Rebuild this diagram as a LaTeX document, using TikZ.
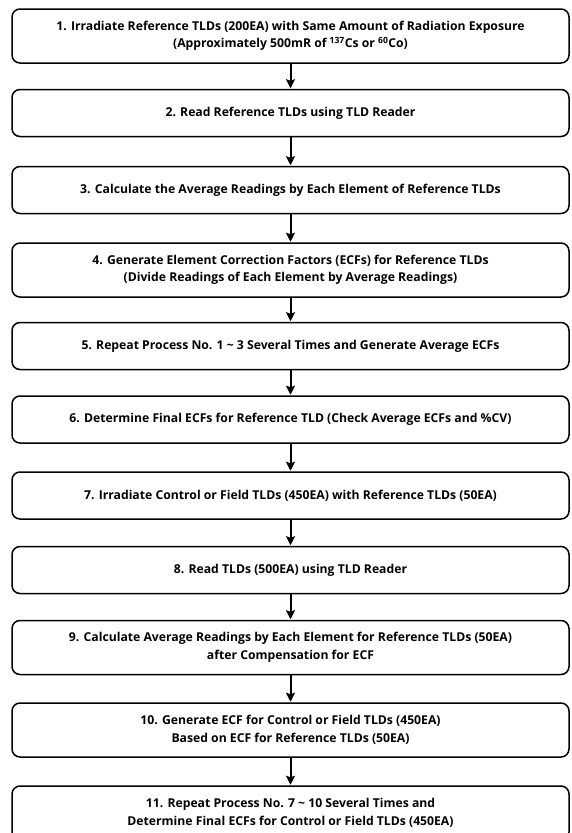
\documentclass[tikz,border=0pt]{standalone}
\usepackage{fontspec}
\setmainfont{Open Sans}
\usepackage{tikz}
\usetikzlibrary{arrows.meta,positioning}

\begin{document}
\begin{tikzpicture}
[x=1pt,y=-1pt,>={Stealth[length=9pt,width=9pt,inset=1.5pt]},
step box/.style = {draw, rounded corners=8pt, line width=1.5pt, minimum width=557pt, align=center, inner sep=0pt,
  font=\fontsize{12.2}{17.5}\selectfont\bfseries},
one line/.style = {step box, minimum height=47pt},
two line/.style = {step box, minimum height=54pt},
flow/.style = {->, line width=2pt, shorten >=0.5pt}]
\clip (0,0) rectangle (571,833);
\node (S1) at (290.5,36)[two line] {1. Irradiate Reference TLDs (200EA) with Same Amount of Radiation Exposure\\(Approximately 500mR of \textsuperscript{137}Cs or \textsuperscript{60}Co)};
\node (S2) at (290.5,113)[one line] {2. Read Reference TLDs using TLD Reader};
\node (S3) at (290.5,190)[one line] {3. Calculate the Average Readings by Each Element of Reference TLDs};
\node (S4) at (290.5,270)[two line] {4. Generate Element Correction Factors (ECFs) for Reference TLDs\\(Divide Readings of Each Element by Average Readings)};
\node (S5) at (290.5,346)[one line] {5. Repeat Process No. 1 \textasciitilde\ 3 Several Times and Generate Average ECFs};
\node (S6) at (290.5,419.5)[one line] {6. Determine Final ECFs for Reference TLD (Check Average ECFs and \%CV)};
\node (S7) at (290.5,495.5)[one line] {7. Irradiate Control or Field TLDs (450EA) with Reference TLDs (50EA)};
\node (S8) at (290.5,570)[one line] {8. Read TLDs (500EA) using TLD Reader};
\node (S9) at (290.5,647.5)[two line] {9. Calculate Average Readings by Each Element for Reference TLDs (50EA)\\after Compensation for ECF};
\node (S10) at (290.5,730)[two line] {10. Generate ECF for Control or Field TLDs (450EA)\\Based on ECF for Reference TLDs (50EA)};
\node (S11) at (290.5,813)[two line] {11. Repeat Process No. 7 \textasciitilde\ 10 Several Times and\\Determine Final ECFs for Control or Field TLDs (450EA)};
\draw[flow] (S1)--(S2);
\draw[flow] (S2)--(S3);
\draw[flow] (S3)--(S4);
\draw[flow] (S4)--(S5);
\draw[flow] (S5)--(S6);
\draw[flow] (S6)--(S7);
\draw[flow] (S7)--(S8);
\draw[flow] (S8)--(S9);
\draw[flow] (S9)--(S10);
\draw[flow] (S10)--(S11);



\end{tikzpicture}
\end{document}
